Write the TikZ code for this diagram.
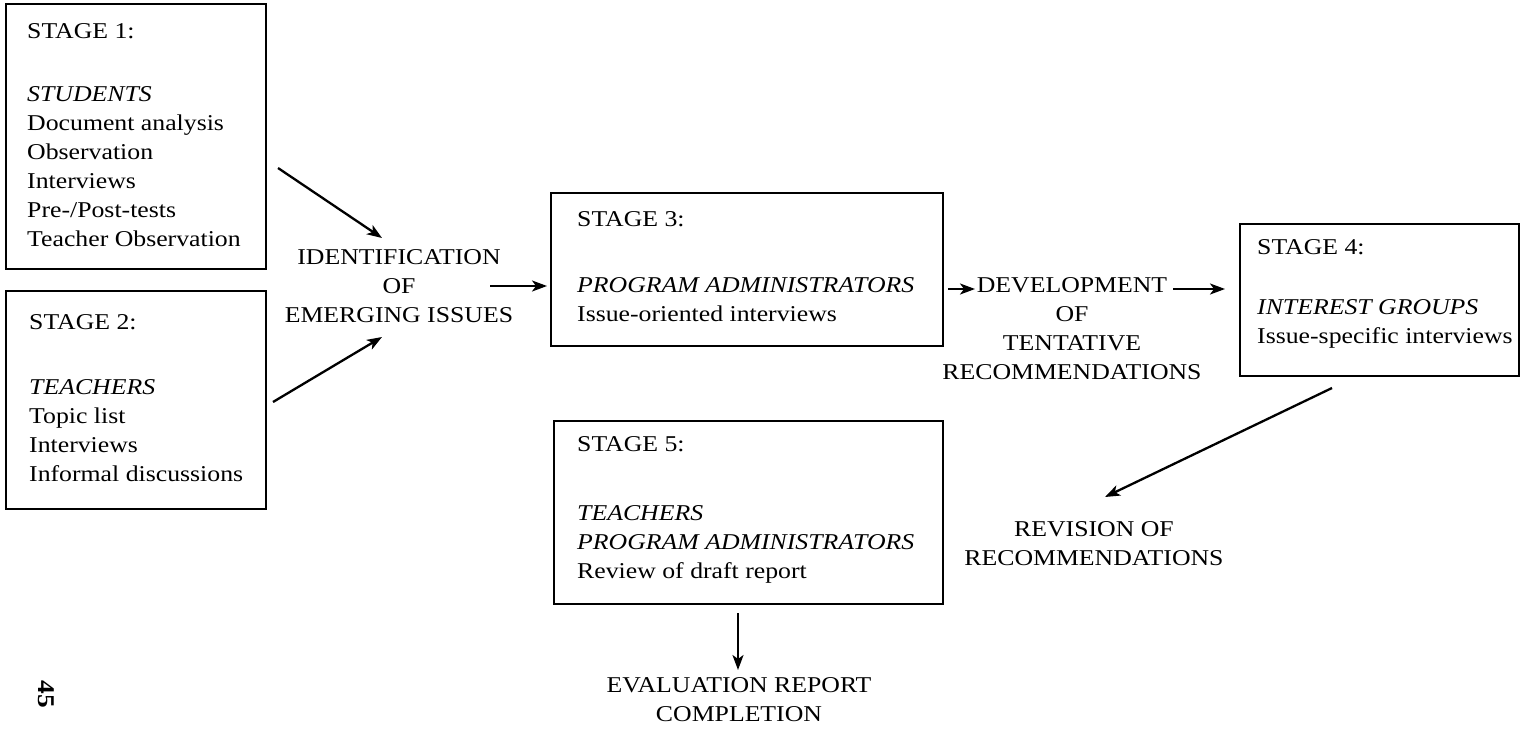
\documentclass[tikz,border=0pt]{standalone}
\usepackage{fontspec}
\setmainfont{Liberation Serif}[FakeStretch=1.14]
\usetikzlibrary{arrows.meta}
\tikzset{
  stagebox/.style={draw, line width=2.4pt, rectangle, inner sep=0pt, anchor=north west},
  stagetext/.style={anchor=north west, inner sep=0pt, align=left, font=\fontsize{22.6}{29}\selectfont},
  lbl/.style={anchor=north, inner sep=0pt, align=center, font=\fontsize{22.6}{29}\selectfont},
  flow/.style={line width=2.3pt, -{Stealth[length=15pt,width=11pt,inset=4pt]}},
}
\begin{document}
\begin{tikzpicture}[x=1pt,y=-1pt]
\useasboundingbox (0,0) rectangle (1533,728);

% boxes
\node[stagebox, minimum width=260, minimum height=265] (s1) at (5,3) {};
\node[stagebox, minimum width=260, minimum height=218] (s2) at (5,290) {};
\node[stagebox, minimum width=392, minimum height=153] (s3) at (550,192) {};
\node[stagebox, minimum width=279, minimum height=152] (s4) at (1239,223) {};
\node[stagebox, minimum width=389, minimum height=183] (s5) at (553,420) {};

% box texts
\node[stagetext] (t1) at (27,23.7) {STAGE 1:\\[34pt]\textit{STUDENTS}\\Document analysis\\Observation\\Interviews\\Pre-/Post-tests\\Teacher Observation};
\node[stagetext] (t2) at (29,314.7) {STAGE 2:\\[36pt]\textit{TEACHERS}\\Topic list\\Interviews\\Informal discussions};
\node[stagetext] (t3) at (577,211.7) {STAGE 3:\\[37pt]\textit{PROGRAM ADMINISTRATORS}\\Issue-oriented interviews};
\node[stagetext] (t4) at (1257,239.7) {STAGE 4:\\[31pt]\textit{INTEREST GROUPS}\\Issue-specific interviews};
\node[stagetext] (t5) at (577,436.7) {STAGE 5:\\[40pt]\textit{TEACHERS}\\\textit{PROGRAM ADMINISTRATORS}\\Review of draft report};

% free labels
\node[lbl] (ident) at (399,249.7) {IDENTIFICATION\\OF\\EMERGING ISSUES};
\node[lbl] (dev) at (1072,277.7) {DEVELOPMENT\\OF\\TENTATIVE\\RECOMMENDATIONS};
\node[lbl] (rev) at (1094,521.7) {REVISION OF\\RECOMMENDATIONS};
\node[lbl] (eval) at (739,677.7) {EVALUATION REPORT\\COMPLETION};
\node[inner sep=0pt, rotate=-90, font=\fontsize{24}{24}\selectfont\bfseries] (page) at (46,694) {45};

% arrow end points
\coordinate (a1s) at (278,168);  \coordinate (a1e) at (382,238);
\coordinate (a2s) at (273,402);  \coordinate (a2e) at (382,337);
\coordinate (a3s) at (490,286);  \coordinate (a3e) at (547,286);
\coordinate (a4s) at (948,289);  \coordinate (a4e) at (975,289);
\coordinate (a5s) at (1173,289); \coordinate (a5e) at (1225,289);
\coordinate (a6s) at (1332,388); \coordinate (a6e) at (1105,497);
\coordinate (a7s) at (738,613);  \coordinate (a7e) at (738,670);

\draw[flow] (a1s) -- (a1e);
\draw[flow] (a2s) -- (a2e);
\draw[flow] (a3s) -- (a3e);
\draw[flow] (a4s) -- (a4e);
\draw[flow] (a5s) -- (a5e);
\draw[flow] (a6s) -- (a6e);
\draw[flow] (a7s) -- (a7e);
\end{tikzpicture}
\end{document}
